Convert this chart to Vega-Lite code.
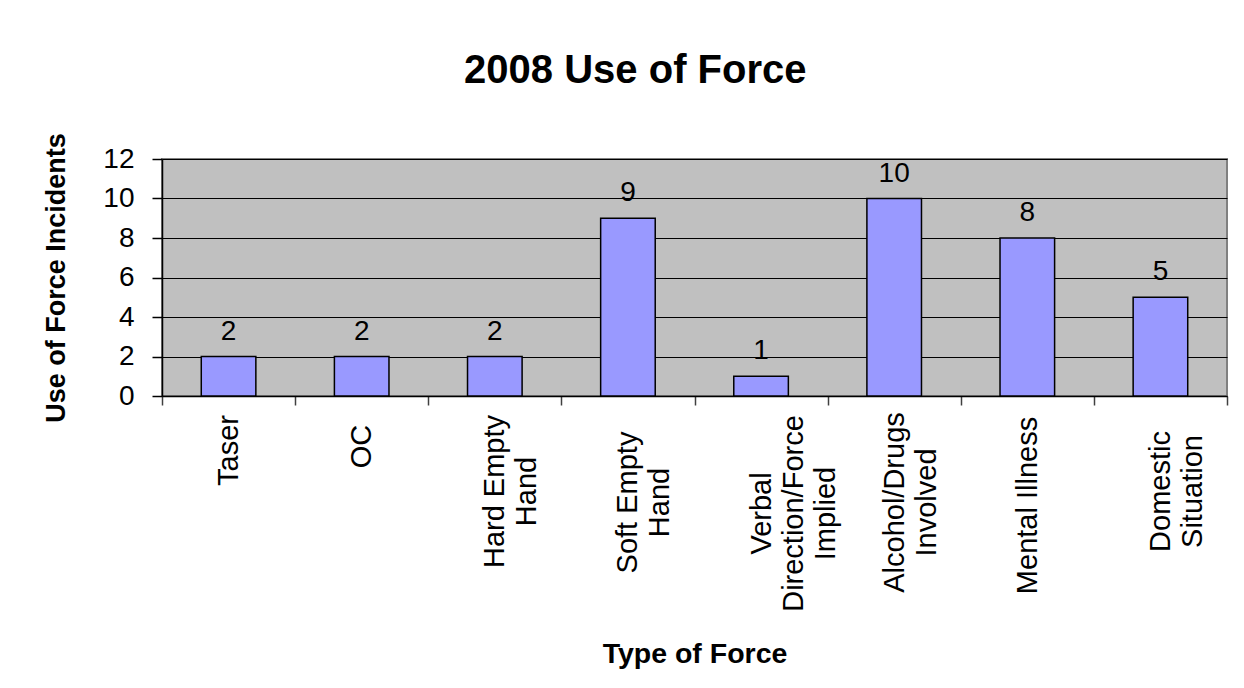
{
  "$schema": "https://vega.github.io/schema/vega-lite/v6.json",
  "autosize": {"type": "none"},
  "width": 1065,
  "height": 237,
  "padding": {"left": 162, "top": 159, "right": 17, "bottom": 292},
  "background": "white",
  "title": {
    "text": "2008 Use of Force",
    "font": "Liberation Sans",
    "fontSize": 40,
    "fontWeight": "bold",
    "color": "black",
    "anchor": "middle",
    "frame": "bounds",
    "offset": 42
  },
  "data": {
    "values": [
      {"type": "Taser", "count": 2},
      {"type": "OC", "count": 2},
      {"type": "Hard Empty|Hand", "count": 2},
      {"type": "Soft Empty|Hand", "count": 9},
      {"type": "Verbal|Direction/Force|Implied", "count": 1},
      {"type": "Alcohol/Drugs|Involved", "count": 10},
      {"type": "Mental Illness", "count": 8},
      {"type": "Domestic|Situation", "count": 5}
    ]
  },
  "config": {
    "view": {"fill": "#C0C0C0", "stroke": "#808080", "strokeWidth": 2},
    "font": "Liberation Sans"
  },
  "encoding": {
    "x": {
      "field": "type",
      "type": "nominal",
      "sort": null,
      "scale": {"paddingInner": 0, "paddingOuter": 0},
      "axis": {
        "title": "Type of Force",
        "titleFont": "Liberation Sans",
        "titleFontSize": 28.5,
        "titleFontWeight": "bold",
        "titleColor": "black",
        "titlePadding": 43,
        "labelExpr": "split(datum.label, '|')",
        "labelAngle": -90,
        "labelAlign": "center",
        "labelBaseline": "middle",
        "labelFont": "Liberation Sans",
        "labelFontSize": 29,
        "labelLineHeight": 32,
        "labelColor": "black",
        "labelPadding": {"expr": "datum.value == 'Taser' ? 45 : datum.value == 'OC' ? 41 : datum.value == 'Hard Empty|Hand' ? 86 : datum.value == 'Soft Empty|Hand' ? 97 : datum.value == 'Verbal|Direction/Force|Implied' ? 108 : datum.value == 'Alcohol/Drugs|Involved' ? 97 : datum.value == 'Mental Illness' ? 100 : 86"},
        "labelLimit": 400,
        "labelOverlap": false,
        "tickBand": "extent",
        "tickSize": 9,
        "tickColor": "#404040",
        "tickWidth": 1.5,
        "domainColor": "black",
        "domainWidth": 1.5,
        "grid": false
      }
    },
    "y": {
      "field": "count",
      "type": "quantitative",
      "scale": {"domain": [0, 12], "nice": false},
      "axis": {
        "title": "Use of Force Incidents",
        "titleFont": "Liberation Sans",
        "titleFontSize": 27,
        "titleFontWeight": "bold",
        "titleColor": "black",
        "titlePadding": 32,
        "values": [0, 2, 4, 6, 8, 10, 12],
        "labelOverlap": false,
        "labelFont": "Liberation Sans",
        "labelFontSize": 28,
        "labelColor": "black",
        "labelPadding": 18,
        "tickSize": 10,
        "tickColor": "black",
        "tickWidth": 1.5,
        "domainColor": "black",
        "domainWidth": 1.5,
        "grid": true,
        "gridColor": "black",
        "gridWidth": 1.2
      }
    }
  },
  "layer": [
    {
      "mark": {"type": "bar", "fill": "#9999FF", "stroke": "black", "strokeWidth": 1.5, "width": {"band": 0.41}}
    },
    {
      "mark": {"type": "text", "font": "Liberation Sans", "fontSize": 28, "color": "black", "baseline": "alphabetic", "dy": -17},
      "encoding": {
        "text": {"field": "count", "type": "quantitative"}
      }
    }
  ]
}
